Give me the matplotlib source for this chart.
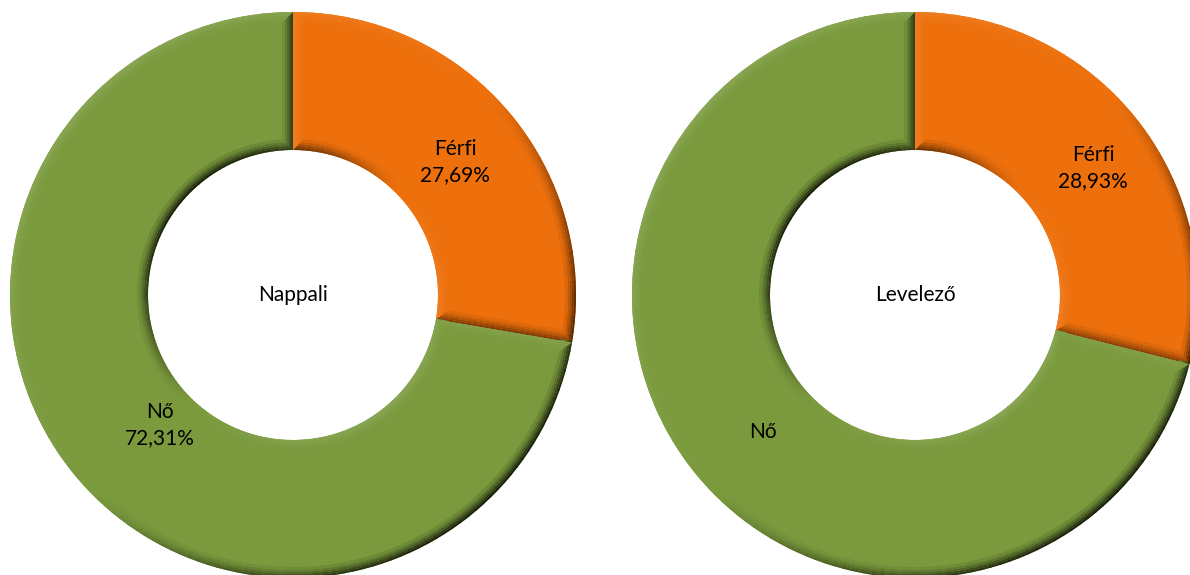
import numpy as np
import matplotlib.pyplot as plt
from matplotlib.patches import Wedge, Polygon
from matplotlib.colors import to_rgb

# data
charts = ['Nappali', 'Levelező']
categories = ['Férfi', 'Nő']
ferfi = [27.69, 28.93]
no = [72.31, 71.07]
show_pct_no = [True, False]

colors = ['#ED700C', '#7A9A3D']

W, H = 1190, 575
centers = [(293, 280), (915, 280)]
R = 283
ring = 138
light = np.deg2rad(135)
# bevel sub-strips: (from edge, to edge, strength)
steps = [(0, 2, 1.0), (2, 4, 0.8), (4, 6, 0.55), (6, 8, 0.35), (8, 11, 0.15)]


def shade(base, normal_deg, k):
    s = np.cos(np.deg2rad(normal_deg) - light)
    b = np.array(to_rgb(base))
    if s < 0:
        return tuple(b * (1 - 0.8 * (-s) * k))
    return tuple(b + (1 - b) * 0.12 * s * k)


def add_bevel(ax, c, t1, t2, base):
    r0 = R - ring
    n = max(int((t2 - t1) / 2), 2)
    angs = np.linspace(t1, t2, n + 1)
    for a, b2 in zip(angs[:-1], angs[1:]):
        mid = (a + b2) / 2
        for d0, d1, k in steps:
            # outer edge
            ax.add_patch(Wedge(c, R - d0, a, b2 + 0.3, width=d1 - d0,
                               color=shade(base, mid, k), lw=0))
            # inner edge
            ax.add_patch(Wedge(c, r0 + d1, a, b2 + 0.3, width=d1 - d0,
                               color=shade(base, mid + 180, k), lw=0))
    # radial edges
    for t, sgn in [(t1, 1), (t2, -1)]:
        tr = np.deg2rad(t)
        u = np.array([np.cos(tr), np.sin(tr)])
        p = np.array([-np.sin(tr), np.cos(tr)]) * sgn  # points into the wedge
        normal = t - 90 if sgn == 1 else t + 90
        for d0, d1, k in steps:
            pts = [np.array(c) + u * (r0 + d0) + p * d0,
                   np.array(c) + u * (R - d0) + p * d0,
                   np.array(c) + u * (R - d1) + p * d1,
                   np.array(c) + u * (r0 + d1) + p * d1]
            ax.add_patch(Polygon(pts, closed=True, color=shade(base, normal, k), lw=0))


plt.rcParams['font.family'] = ['Lato', 'DejaVu Sans']
fig = plt.figure(figsize=(W / 100, H / 100), dpi=100)
ax = fig.add_axes([0, 0, 1, 1])

label_pos = [[(455, 162), (160, 425)], [(1093, 168), (763, 432)]]

for i, name in enumerate(charts):
    vals = [ferfi[i], no[i]]
    wedges, _ = ax.pie(vals, colors=colors, startangle=90, counterclock=False,
                       center=centers[i], radius=R,
                       wedgeprops=dict(width=ring, linewidth=0))
    for w, col in zip(wedges, colors):
        add_bevel(ax, centers[i], w.theta1, w.theta2, col)
    ax.text(centers[i][0], centers[i][1], name, ha='center', va='center', fontsize=15)
    for j, cat in enumerate(categories):
        txt = cat
        if j == 0 or show_pct_no[i]:
            txt = f"{cat}\n{vals[j]:.2f}%".replace('.', ',')
        x, y = label_pos[i][j]
        ax.text(x, H - y, txt, ha='center', va='center', fontsize=15, linespacing=1.4)

ax.set_xlim(0, W)
ax.set_ylim(0, H)
ax.set_aspect('equal')
ax.axis('off')
fig.savefig('out.png', dpi=100)
